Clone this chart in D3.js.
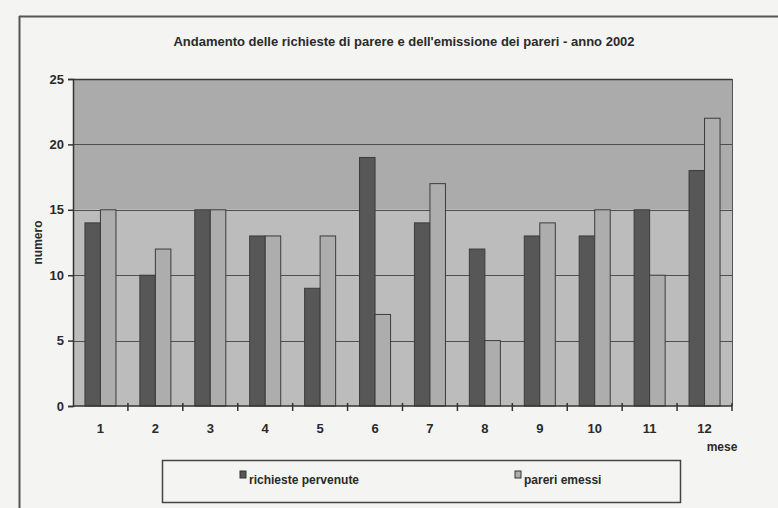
<!DOCTYPE html>
<html>
<head>
<meta charset="utf-8">
<script src="https://cdn.jsdelivr.net/npm/d3@7"></script>
<style>
  html, body { margin: 0; padding: 0; background: #f4f4f2; }
  svg { display: block; }
  text { font-family: "Liberation Sans", Arial, sans-serif; fill: #2a2a2a; }
</style>
</head>
<body>
<svg id="chart" width="778" height="508"></svg>
<script>
// Monthly requests for opinions and opinions issued, 2002
const months = ["1", "2", "3", "4", "5", "6", "7", "8", "9", "10", "11", "12"];
const richiestePervenute = [14, 10, 15, 13, 9, 19, 14, 12, 13, 13, 15, 18];
const pareriEmessi = [15, 12, 15, 13, 13, 7, 17, 5, 14, 15, 10, 22];
const seriesNames = ["richieste pervenute", "pareri emessi"];
const seriesColors = ["#575757", "#adadad"];
const yTicks = [0, 5, 10, 15, 20, 25];

const title = "Andamento delle richieste di parere e dell'emissione dei pareri - anno 2002";

const svg = d3.select("#chart");
const W = 778, H = 508;
const plot = { left: 73, right: 732, top: 79, bottom: 406 };

// outer frame (top and left edges visible)
svg.append("line").attr("x1", 19).attr("x2", W + 2).attr("y1", 16.5).attr("y2", 16.5)
  .attr("stroke", "#555").attr("stroke-width", 2);
svg.append("line").attr("x1", 19.5).attr("x2", 19.5).attr("y1", 16).attr("y2", H + 2)
  .attr("stroke", "#555").attr("stroke-width", 2);

const x0 = d3.scaleBand().domain(months).range([plot.left, plot.right]);
const groupW = x0.bandwidth() * 0.565;
const x1 = d3.scaleBand().domain(seriesNames)
  .range([(x0.bandwidth() - groupW) / 2, (x0.bandwidth() + groupW) / 2]);
const y = d3.scaleLinear().domain([0, 25]).range([plot.bottom, plot.top]);

// plot area: darker upper band, lighter lower band
svg.append("rect").attr("x", plot.left).attr("width", plot.right - plot.left)
  .attr("y", y(25)).attr("height", y(15) - y(25)).attr("fill", "#ababab");
svg.append("rect").attr("x", plot.left).attr("width", plot.right - plot.left)
  .attr("y", y(15)).attr("height", y(0) - y(15)).attr("fill", "#bcbcbc");

// gridlines
svg.append("g").selectAll("line").data(yTicks.filter(d => d > 0))
  .join("line")
  .attr("x1", plot.left).attr("x2", plot.right)
  .attr("y1", d => Math.round(y(d)) + 0.5).attr("y2", d => Math.round(y(d)) + 0.5)
  .attr("stroke", d => d === 25 ? "#3a3a3a" : "#4f4f4f")
  .attr("stroke-width", d => d === 25 ? 1.5 : 1);
// right border of plot area
svg.append("line").attr("x1", plot.right + 0.5).attr("x2", plot.right + 0.5)
  .attr("y1", y(25)).attr("y2", y(0)).attr("stroke", "#555").attr("stroke-width", 1);

// bars
const rows = months.map((m, i) => ({ m, vals: [richiestePervenute[i], pareriEmessi[i]] }));
const groups = svg.append("g").selectAll("g").data(rows).join("g")
  .attr("transform", d => `translate(${x0(d.m)},0)`);
groups.selectAll("rect")
  .data(d => d.vals.map((v, k) => ({ key: seriesNames[k], v, k })))
  .join("rect")
  .attr("x", d => x1(d.key))
  .attr("width", x1.bandwidth())
  .attr("y", d => y(d.v))
  .attr("height", d => y(0) - y(d.v))
  .attr("fill", d => seriesColors[d.k])
  .attr("stroke", "#3c3c3c")
  .attr("stroke-width", 1);

// y axis
const yAxis = d3.axisLeft(y).tickValues(yTicks).tickSize(5).tickPadding(4);
const gy = svg.append("g").attr("transform", `translate(${plot.left},0)`).call(yAxis);
gy.select(".domain").attr("stroke", "#333").attr("stroke-width", 1.5);
gy.selectAll(".tick line").attr("stroke", "#333").attr("stroke-width", 1.5);
gy.selectAll(".tick text").attr("font-size", 13).attr("font-weight", "bold")
  .attr("font-family", "Liberation Sans, Arial, sans-serif").attr("fill", "#2a2a2a");

// x axis with ticks at category boundaries
const gx = svg.append("g").attr("transform", `translate(0,${plot.bottom})`);
gx.append("line").attr("x1", plot.left).attr("x2", plot.right)
  .attr("stroke", "#333").attr("stroke-width", 1.5);
gx.selectAll("line.bt").data(months.slice(1).map(m => x0(m)).concat([plot.right]))
  .join("line").attr("class", "bt")
  .attr("x1", d => d).attr("x2", d => d).attr("y1", -3).attr("y2", 5)
  .attr("stroke", "#333").attr("stroke-width", 1.5);
gx.selectAll("text").data(months).join("text")
  .attr("x", d => x0(d) + x0.bandwidth() / 2)
  .attr("y", 27)
  .attr("text-anchor", "middle")
  .attr("font-size", 13).attr("font-weight", "bold")
  .text(d => d);

// title and axis titles
svg.append("text").attr("x", 404).attr("y", 46).attr("text-anchor", "middle")
  .attr("font-size", 13).attr("font-weight", "bold").text(title);
svg.append("text").attr("transform", `translate(42,${(plot.top + plot.bottom) / 2}) rotate(-90)`)
  .attr("text-anchor", "middle").attr("font-size", 12).attr("font-weight", "bold").text("numero");
svg.append("text").attr("x", 722).attr("y", 451).attr("text-anchor", "middle")
  .attr("font-size", 12).attr("font-weight", "bold").text("mese");

// legend
const lg = svg.append("g");
lg.append("rect").attr("x", 162.5).attr("y", 460.5).attr("width", 518).attr("height", 42)
  .attr("fill", "none").attr("stroke", "#444").attr("stroke-width", 1.5);
const legendX = [240, 515];
seriesNames.forEach((name, k) => {
  lg.append("rect").attr("x", legendX[k]).attr("y", 471).attr("width", 6).attr("height", 7)
    .attr("fill", seriesColors[k]).attr("stroke", "#333").attr("stroke-width", 1);
  lg.append("text").attr("x", legendX[k] + 9).attr("y", 484)
    .attr("font-size", 12).attr("font-weight", "bold").text(name);
});
</script>
</body>
</html>
